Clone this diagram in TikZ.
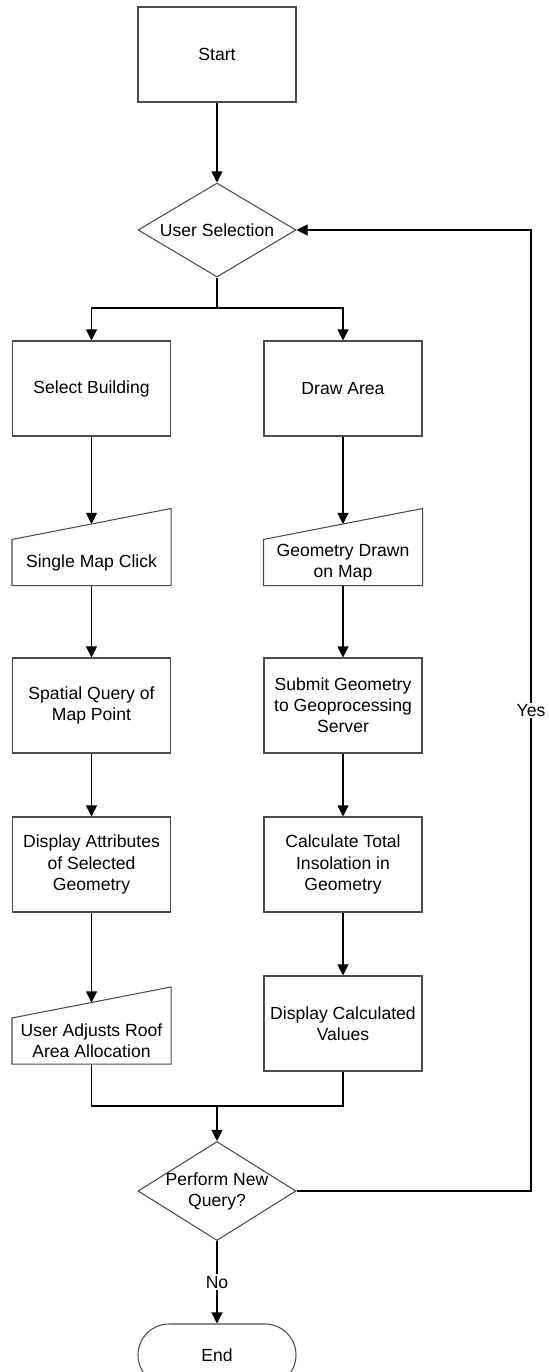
\documentclass[tikz,border=0pt]{standalone}
\usepackage{fontspec}
\setmainfont{Liberation Sans}
\usetikzlibrary{arrows.meta,shapes.geometric}

\begin{document}
\begin{tikzpicture}[
    procbox/.style={
        draw=black!70,
        fill=white,
        minimum width=3.16cm,
        minimum height=1.9cm,
        align=center,
        font=\fontsize{10}{12}\selectfont,
        inner sep=2pt,
        line width=0.6pt,
    },
    manin/.style={
        procbox,
        draw=none,
        fill=none,
        minimum height=0.9cm,
    },
    decision/.style={
        procbox,
        diamond,
        shape aspect=1.6,
        inner sep=-4pt,
        minimum height=1.88cm,
    },
    terminal/.style={
        procbox,
        rounded corners=0.62cm,
        minimum height=1.24cm,
    },
    link/.style={
        line width=0.6pt,
        color=black,
    },
    flow/.style={
        link,
        -{Triangle[width=0.22cm,length=0.22cm]},
    },
    flowlabel/.style={
        fill=white,
        font=\fontsize{10}{12}\selectfont,
        inner sep=1pt,
    },
]
\useasboundingbox (0,0) rectangle (10.98,-27.44);

\node[procbox] (start) at (4.34,-1.09) {Start};
\node[decision] (usel) at (4.34,-4.60) {User Selection};

\node[procbox] (selb) at (1.83,-7.77) {Select Building};
\node[procbox] (drawa) at (6.86,-7.77) {Draw Area};

\node[manin] (click) at (1.83,-11.25) {Single Map Click};
\node[manin] (drawn) at (6.86,-11.25) {Geometry Drawn\\on Map};

\node[procbox] (spq) at (1.83,-14.11) {Spatial Query of\\Map Point};
\node[procbox] (submit) at (6.86,-14.11) {Submit Geometry\\to Geoprocessing\\Server};

\node[procbox] (attr) at (1.83,-17.29) {Display Attributes\\of Selected\\Geometry};
\node[procbox] (insol) at (6.86,-17.29) {Calculate Total\\Insolation in\\Geometry};

\node[manin] (adjust) at (1.83,-20.82) {User Adjusts Roof\\Area Allocation};
\node[procbox] (calcval) at (6.86,-20.47) {Display Calculated\\Values};

\node[decision,minimum height=1.98cm] (perform) at (4.34,-23.82) {Perform New\\Query?};
\node[terminal] (endn) at (4.34,-27.1) {End};

% manual input outlines
\foreach \n in {click,drawn,adjust}
    \draw[draw=black!70,line width=0.6pt] (\n.south west) -- (\n.south east) -- ([yshift=0.62cm]\n.north east) -- (\n.north west) -- cycle;

\coordinate (split) at (4.34,-6.16);
\coordinate (merge) at (4.34,-22.12);
\coordinate (back) at (10.62,-4.60);

\draw[flow] (start) -- (usel);
\draw[link] (usel) -- (split);
\draw[flow] (split) -| (selb);
\draw[flow] (split) -| (drawa);

\draw[flow] (selb) -- ([yshift=0.31cm]click.north);
\draw[flow] (drawa) -- ([yshift=0.31cm]drawn.north);
\draw[flow] (click) -- (spq);
\draw[flow] (drawn) -- (submit);
\draw[flow] (spq) -- (attr);
\draw[flow] (submit) -- (insol);
\draw[flow] (attr) -- ([yshift=0.31cm]adjust.north);
\draw[flow] (insol) -- (calcval);

\draw[link] (adjust) |- (merge) -| (calcval);
\draw[flow] (merge) -- (perform);
\draw[flow] (perform) -- node[flowlabel] {No} (endn);
\draw[flow] (perform) -| node[flowlabel,pos=0.75] {Yes} (back) -- (usel);
\end{tikzpicture}
\end{document}
